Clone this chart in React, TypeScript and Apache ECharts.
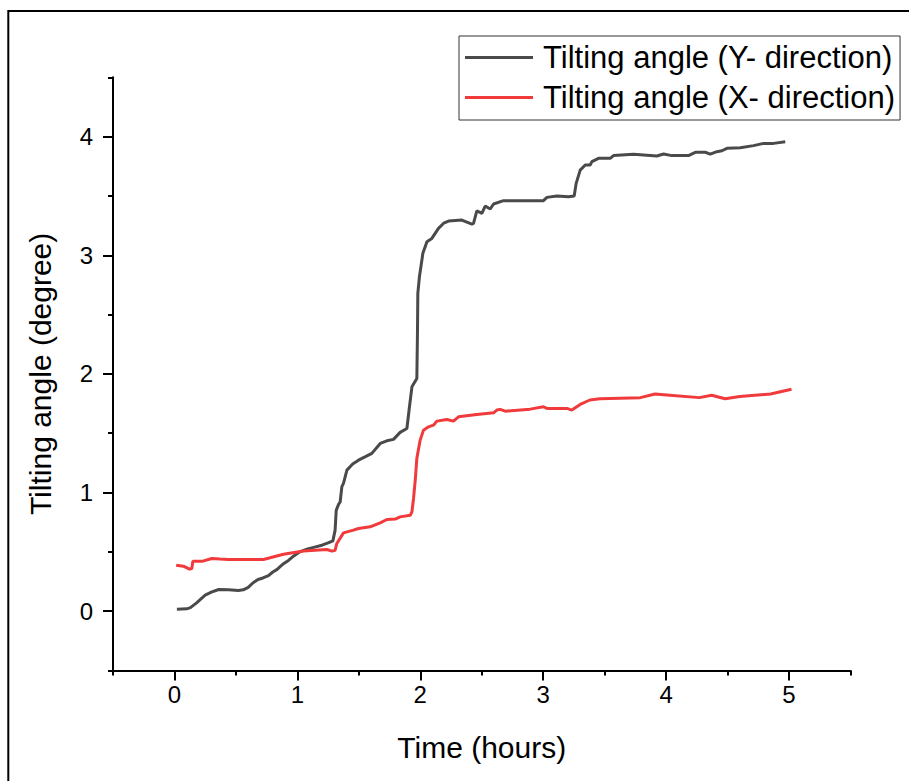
import React, { useEffect, useRef } from 'react';
import * as echarts from 'echarts';

const FONT = 'Arial, "Liberation Sans", sans-serif';

const seriesNames = ['Tilting angle (Y- direction)', 'Tilting angle (X- direction)'];
const xMajorTicks = [0, 1, 2, 3, 4, 5];
const yMajorTicks = [0, 1, 2, 3, 4];

// Tilting angle, Y- direction (grey)
const yDirTime = [0.02, 0.10, 0.13, 0.18, 0.25, 0.30, 0.36, 0.44, 0.52, 0.56, 0.60, 0.64, 0.68, 0.72, 0.765, 0.80, 0.833, 0.887, 0.93, 0.968, 1.02, 1.077, 1.14, 1.2, 1.25, 1.289, 1.307, 1.316, 1.335, 1.348, 1.362, 1.375, 1.403, 1.45, 1.497, 1.55, 1.606, 1.674, 1.728, 1.782, 1.836, 1.891, 1.912, 1.932, 1.972, 1.977, 1.98, 1.993, 2.021, 2.054, 2.094, 2.148, 2.19, 2.23, 2.338, 2.42, 2.433, 2.46, 2.501, 2.528, 2.569, 2.596, 2.677, 2.85, 3.002, 3.03, 3.111, 3.206, 3.252, 3.268, 3.301, 3.342, 3.382, 3.396, 3.45, 3.545, 3.572, 3.735, 3.925, 3.979, 4.047, 4.182, 4.237, 4.318, 4.359, 4.413, 4.454, 4.495, 4.603, 4.711, 4.793, 4.874, 4.969];
const yDirAngle = [0.017, 0.02, 0.03, 0.07, 0.135, 0.16, 0.183, 0.18, 0.175, 0.18, 0.20, 0.24, 0.267, 0.28, 0.30, 0.33, 0.35, 0.40, 0.43, 0.464, 0.50, 0.523, 0.54, 0.556, 0.575, 0.593, 0.683, 0.85, 0.90, 0.92, 1.05, 1.077, 1.189, 1.24, 1.273, 1.30, 1.33, 1.414, 1.436, 1.448, 1.507, 1.54, 1.723, 1.891, 1.962, 2.342, 2.679, 2.819, 3.016, 3.114, 3.142, 3.227, 3.27, 3.288, 3.297, 3.263, 3.269, 3.375, 3.353, 3.415, 3.39, 3.432, 3.46, 3.46, 3.46, 3.488, 3.499, 3.494, 3.5, 3.606, 3.718, 3.761, 3.761, 3.789, 3.817, 3.817, 3.84, 3.851, 3.837, 3.853, 3.84, 3.84, 3.868, 3.868, 3.853, 3.873, 3.881, 3.901, 3.907, 3.924, 3.943, 3.943, 3.957];

// Tilting angle, X- direction (red)
const xDirTime = [0.014, 0.073, 0.122, 0.141, 0.15, 0.223, 0.304, 0.37, 0.439, 0.724, 0.887, 1.05, 1.24, 1.281, 1.307, 1.321, 1.375, 1.456, 1.497, 1.592, 1.674, 1.728, 1.796, 1.836, 1.918, 1.932, 1.945, 1.959, 1.967, 1.972, 1.999, 2.026, 2.067, 2.107, 2.135, 2.216, 2.27, 2.311, 2.46, 2.596, 2.623, 2.65, 2.691, 2.894, 3.002, 3.03, 3.193, 3.233, 3.301, 3.38, 3.46, 3.79, 3.91, 4.03, 4.27, 4.37, 4.48, 4.6, 4.85, 5.02];
const xDirAngle = [0.388, 0.379, 0.354, 0.36, 0.42, 0.42, 0.444, 0.44, 0.436, 0.436, 0.48, 0.508, 0.52, 0.506, 0.514, 0.571, 0.66, 0.683, 0.697, 0.711, 0.745, 0.773, 0.776, 0.795, 0.809, 0.837, 0.95, 1.105, 1.217, 1.288, 1.442, 1.526, 1.554, 1.568, 1.602, 1.616, 1.602, 1.638, 1.658, 1.672, 1.695, 1.701, 1.686, 1.703, 1.723, 1.709, 1.709, 1.695, 1.743, 1.78, 1.79, 1.80, 1.83, 1.82, 1.80, 1.82, 1.79, 1.81, 1.83, 1.87];

const zip = (a: number[], b: number[]) => a.map((v, i) => [v, b[i]]);

export default function App() {
  const ref = useRef<HTMLDivElement>(null);
  useEffect(() => {
    if (!ref.current) return;
    const chart = echarts.init(ref.current, undefined, { renderer: 'svg' });
    const axisLineStyle = { color: '#000', width: 2 };
    chart.setOption({
      animation: false,
      backgroundColor: '#fff',
      grid: { left: 113, right: 58.5, top: 77.3, bottom: 110.5, containLabel: false },
      legend: {
        orient: 'vertical',
        left: 459,
        top: 36,
        padding: [6, 5, 7, 6],
        icon: 'rect',
        itemWidth: 68,
        itemHeight: 3,
        itemGap: 9,
        borderColor: '#333',
        borderWidth: 1,
        textStyle: { fontSize: 31, lineHeight: 30, color: '#000', fontFamily: FONT, padding: [0, 0, 0, 5] },
        data: seriesNames,
      },
      graphic: [
        {
          type: 'rect',
          shape: { x: 8.3, y: 11, width: 960, height: 820 },
          style: { fill: 'none', stroke: '#000', lineWidth: 2 },
          silent: true,
        },
      ],
      xAxis: [
        {
          type: 'value',
          min: -0.5,
          max: 5.5,
          position: 'bottom',
          name: 'Time (hours)',
          nameLocation: 'middle',
          nameGap: 62,
          nameTextStyle: { fontSize: 30, color: '#000', fontFamily: FONT },
          axisLine: { show: true, onZero: false, lineStyle: axisLineStyle },
          axisTick: { show: true, customValues: xMajorTicks, length: 10, lineStyle: axisLineStyle },
          axisLabel: { customValues: xMajorTicks, margin: 12, fontSize: 24, color: '#000', fontFamily: FONT },
          splitLine: { show: false },
        },
        {
          type: 'value',
          min: -0.5,
          max: 5.5,
          interval: 0.5,
          position: 'bottom',
          axisLine: { show: false, onZero: false },
          axisTick: { show: true, length: 5, lineStyle: axisLineStyle },
          axisLabel: { show: false },
          splitLine: { show: false },
        },
      ],
      yAxis: [
        {
          type: 'value',
          min: -0.5,
          max: 4.5,
          position: 'left',
          name: 'Tilting angle (degree)',
          nameLocation: 'middle',
          nameGap: 58,
          nameTextStyle: { fontSize: 30, color: '#000', fontFamily: FONT },
          axisLine: { show: true, onZero: false, lineStyle: axisLineStyle },
          axisTick: { show: true, customValues: yMajorTicks, length: 10, lineStyle: axisLineStyle },
          axisLabel: { customValues: yMajorTicks, margin: 20, fontSize: 24, color: '#000', fontFamily: FONT },
          splitLine: { show: false },
        },
        {
          type: 'value',
          min: -0.5,
          max: 4.5,
          interval: 0.5,
          position: 'left',
          axisLine: { show: false, onZero: false },
          axisTick: { show: true, length: 5, lineStyle: axisLineStyle },
          axisLabel: { show: false },
          splitLine: { show: false },
        },
      ],
      series: [
        {
          name: seriesNames[0],
          type: 'line',
          xAxisIndex: 0,
          yAxisIndex: 0,
          symbol: 'none',
          showSymbol: false,
          lineStyle: { color: '#4a4a4a', width: 3 },
          itemStyle: { color: '#4a4a4a' },
          data: zip(yDirTime, yDirAngle),
        },
        {
          name: seriesNames[1],
          type: 'line',
          xAxisIndex: 0,
          yAxisIndex: 0,
          symbol: 'none',
          showSymbol: false,
          lineStyle: { color: '#f03a3c', width: 3 },
          itemStyle: { color: '#f03a3c' },
          data: zip(xDirTime, xDirAngle),
        },
      ],
    });
    return () => chart.dispose();
  }, []);
  return <div ref={ref} style={{ position: 'fixed', left: 0, top: 0, width: 909, height: 781 }} />;
}
